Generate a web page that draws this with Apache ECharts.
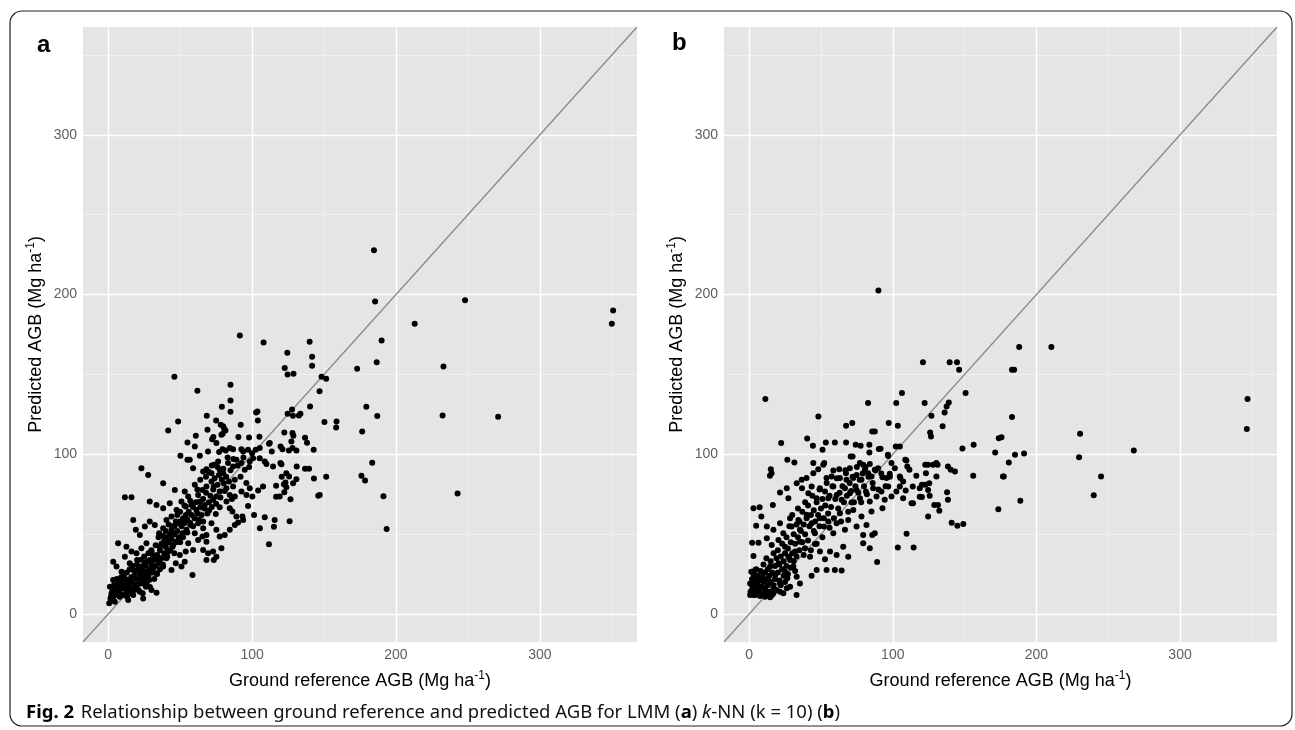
<!DOCTYPE html>
<html>
<head>
<meta charset="utf-8">
<title>Ground reference vs predicted AGB</title>
<script src="https://cdn.jsdelivr.net/npm/echarts@6.0.0/dist/echarts.min.js"></script>
<style>
    html, body { margin: 0; padding: 0; background: #fff; }
    #chart { width: 1295px; height: 730px; }
</style>
</head>
<body>
<div id="chart"></div>
<script>
// [ground reference AGB, predicted AGB] in Mg/ha
var lmmPoints = [
    [184.7,227.8],[185.5,195.6],[248,196.5],[350.9,190],[350,181.8],[213,181.8],[91.5,174.3],[108,170],[140,170.5],[190,171.3],
    [124.5,163.5],[141.7,161],[186.6,157.6],[122.7,154],[141.7,155.5],[233,155],[173,153.5],[46,148.6],[62,139.8],[85,143.5],
    [85,133.7],[79,129.8],[85,126.6],[124.7,150],[128.8,150.5],[148.3,148.6],[151.5,147.3],[146.9,139.4],[140.3,130],[179.4,129.8],
    [187,124],[232.4,124.3],[271,123.5],[150.3,120.2],[158.7,120.6],[158.4,116.8],[176.5,114.3],[183.5,94.7],[176,86.5],[178.5,83.6],
    [191.3,73.8],[193.5,53.3],[242.8,75.4],[151.5,86],[146,74],[147,74.6],[143,84.8],[136.8,91],[139.6,91],[131,92.4],
    [142.8,102.8],[136.8,110.3],[138.2,107.2],[127.8,128],[132.5,124.3],[133.6,125.4],[128.4,124.1],[124.7,125.4],[122.4,113.7],[128.1,113.3],
    [128.7,111.6],[125.6,102.4],[128.1,104],[120.4,93.8],[120.6,85.9],[123.2,82.3],[122.1,81.3],[123.8,79.3],[122.4,76.3],[126.7,71.9],
    [116.7,80.3],[126.1,58.1],[115.2,54.7],[105.4,53.7],[108.8,60.6],[111.7,43.7],[101.4,62],[116.7,73.4],[113.7,101.8],[112.3,107],
    [119.8,104.9],[103.7,126.8],[104,121.2],[105.1,111],[97.9,110.5],[92.1,118.5],[81.5,114.9],[102.8,126.2],[68.5,124.1],[75,121.2],
    [78.2,118.5],[80.6,116],[69,115.4],[73.1,110.8],[79.6,112.9],[90.5,110.8],
    [48.6,120.6],[41.7,114.9],[60.9,111.6],[79.9,117.5],[78.7,112.2],[111.8,106.6],[55.1,107.4],[72.2,109.5],
    [50.2,99.1],[55.1,96.6],[60.2,104.9],[63.7,99.1],[69.4,101.8],[75.2,107],[77.1,101.4],[79.4,103.2],[81.7,102.4],[84.5,103.9],
    [86.8,103.2],[92.6,103.2],[93.8,101.8],[97.2,102.8],[100,100.7],[102.5,102.8],[105.3,103.9],[121.1,103.2],[127.3,108],[130.8,102.4],
    [23.1,91.3],[27.8,87.1],[56.7,96.6],[59,91.3],[66,89.2],[68.3,90.7],[71.8,88.2],[73.6,93.4],[76.4,95.5],[77.5,90.3],
    [79.9,88.2],[83.3,94.5],[86.8,92.4],[89.1,96.6],[92.6,94.5],[94.9,90.3],[98.4,95.5],[100.7,97.6],[105.3,97.6],[108.8,95.5],
    [110,94],[114.6,92.4],[119.7,94.5],[125.7,86.1],[123.8,88.2],[130.8,84.4],
    [11.6,73.1],[16.2,73.1],[38.2,81.9],[46.3,77.7],[53.2,76.7],[55.6,73.6],[60.2,80.9],[62.5,74.6],[65.5,77.7],[68.3,79.8],
    [71.8,83],[73.4,79.8],[75.2,73.6],[77.5,76.7],[80.3,81.9],[82.2,78.8],[84.5,74.6],[86.8,79.8],[88,73.6],[92.6,76.7],
    [96.1,74.6],[98.4,78.8],[100.2,73.6],[104.2,77.3],[107.6,79.8],[119.2,73.6],[128.5,81.9],
    [28.9,70.4],[33.6,68.3],[38.2,66.2],[42.8,69.4],[47.5,65.2],[50.9,70.4],[53.9,67.3],[57.9,68.3],[61.3,65.2],[63.7,70.4],
    [67.1,68.3],[70.1,64.8],[72.9,71.5],[74.8,62.7],[77.5,66.9],[82.2,70.4],[84.5,66.2],[86.3,64.2],[89.1,61],[93.3,61],
    [97.2,67.7],[115.7,58.9],
    [17.4,58.9],[19.2,52.7],[22,49.5],[25.5,54.8],[28.9,57.9],[32.4,55.8],[35.4,50.6],[38.2,53.7],[40.5,58.9],[44,52.7],
    [46.3,55.2],[49.8,57.9],[51.6,50.6],[54.4,52.7],[57.2,55.8],[60.2,50.6],[62.5,56.8],[66,53.7],[68.3,49.5],[71.8,56.8],
    [75.2,52.7],[77.5,48.5],[81,49.5],[84.5,52.7],[88,55.8],[90.3,57.3],[93.8,58.9],
    [6.9,44.3],[12.7,42.2],[16.2,39.1],[19.7,38],[23.1,41.2],[26.6,44.3],[30.1,39.1],[33.6,35.9],[35.9,42.2],[39.4,44.3],
    [41.7,39.1],[44.7,42.2],[47.5,45.3],[49.8,37],[53.9,39.1],[55.6,44.3],[59,40.1],[62.5,46.4],[65.5,48.5],[66,40.1],
    [68.3,45.3],[69.4,38],[72.9,39.1],[75.2,35.9],[78.7,41.2],[68.3,33.9],[73.4,33.9],
    [3.5,32.8],[5.8,29.7],[9.3,26.5],[11.6,35.9],[15,31.8],[17.4,27.6],[20.1,33.9],[23.1,29.7],[25.5,31.8],[27.1,26.5],
    [28.9,33.9],[31.3,28.6],[33.6,25.5],[35.9,31.8],[38.2,29.7],[40.5,34.9],[44,27.6],[47,31.8],[50.9,29.7],[53.2,32.8],
    [58.6,24.5],[10.4,23.4],
    [1.2,17.1],[2.3,13],[3.5,21.3],[5.8,15],[6.9,19.2],[8.1,10.9],[10.4,18.2],[12.7,14],[13.9,20.3],[16.2,16.1],
    [17.4,11.9],[19.7,18.2],[22,14],[24.3,19.2],[26.2,17.1],[28.5,21.3],[30.1,15],[33.6,13.4],[24.3,9.8],[13.9,8.8],
    [3.5,8.8],[0.7,6.7],[1.6,9.8],[4.6,7.7],
    [2,11],[3,15],[4,18],[5,12],[6,14],[6,22],[7,17],[8,20],[8,13],[9,16],[9,23],[10,12],[10,20],[11,16],[11,25],
    [12,18],[12,22],[13,11],[13,26],[14,16],[14,21],[15,19],[15,28],[16,13],[16,23],[17,20],[17,30],[18,15],[18,24],[19,27],
    [19,17],[20,22],[20,31],[21,15],[21,28],[22,19],[22,25],[23,22],[23,34],[24,27],[24,13],[25,24],[25,36],[26,21],[26,30],
    [27,18],[27,33],[28,24],[28,38],[29,28],[29,17],[30,31],[30,40],[31,26],[31,37],[32,22],[32,34],[33,30],[33,43],[34,25],
    [34,37],[35,33],[35,48],[36,28],[36,40],[37,35],[37,44],[38,31],[38,49],[39,38],[39,46],[40,42],[40,52],[41,36],[41,48],
    [42,45],[42,56],[43,40],[43,50],[44,47],[44,61],[45,43],[45,55],[46,50],[46,38],[47,58],[47,45],[48,52],[48,62],[49,48],
    [49,57],[50,45],[50,64],[51,55],[52,60],[52,48],[53,57],[53,68],[54,62],[55,51],[55,59],[56,64],[57,57],[57,71],[58,62],
    [59,55],[59,67],[60,60],[61,70],[62,63],[62,78],[63,59],[64,67],[64,84],[65,62],[66,72],[66,58],[67,66],[68,76],[68,86],
    [69,63],[70,70],[70,89],[71,74],[72,67],[72,93],[73,78],[74,85],[75,69],[76,81],[76,92],[77,87],[78,73],[79,84],[80,91],
    [81,77],[82,86],[83,98],[84,83],[85,90],[86,72],[87,97],[88,84],[90,93],[92,86],[94,98],[96,82],[98,92]
];

var knnPoints = [
    [90,202.5],[188,167.2],[210.4,167.2],[121,157.6],[139.6,157.6],[144.7,157.6],[146.2,153],[183,153],[184.5,153],[11.3,134.6],
    [347,134.6],[346.5,115.8],[106.4,138.4],[150.7,138.4],[82.8,132.1],[102.4,132.1],[122.2,132.1],[139,132.5],[137.5,130],[136.1,126.2],
    [126.9,124.1],[134.7,117.5],[126,113.7],[126.6,111.2],[183,123.3],[230.4,112.9],[229.7,98.2],[267.8,102.4],[245,86.1],[239.9,74.4],
    [173.8,110.1],[171.3,101.1],[180.8,94.9],[185.1,99.7],[191.4,100.5],[176.7,86.1],[177.3,86.1],[156.3,106],[148.5,103.6],[156,86.5],
    [173.5,65.6],[188.8,71],[141,57.2],[145,55.2],[149.1,56.4],[137.8,76.3],[132.4,64.6],[124.6,61],[128.9,68.3],[109.6,50.2],
    [103.5,41.6],[114.5,41.6],[89.1,32.6],[84,41.2],[85.7,49.5],[140.4,90.3],[143.3,89.2],[131.2,93.4],[130.4,86.1],[122.6,93.4],
    [123.1,88.2],[120.3,80.9],[122.6,80.9],[125.4,81.9],[118.8,73.5],[120.3,73.2],[113.9,79.8],[113.1,69.4],[124.6,77.7],[110.1,92.4],
    [111.6,90.3],[108.7,96.6],[105.3,85.1],[97.2,119.6],[103.5,117.9],[102.1,104.9],[96.6,99.7],[85.7,114.3],[83.7,106],[83.7,101.1],
    [90.3,103.3],[74.2,106],[77.6,105.3],[70.7,98.6],[67.5,117.9],[71.8,119.6],[67.5,107.4],[59.7,107.4],[53.4,107.4],[51.1,102.8],
    [44.4,105.3],[40.4,109.9],[48.2,123.7],[22.3,107],[15.1,90.7],[15.6,88.2],[14.5,86.5],[26.6,96.6],[31.5,94.9],[7.3,66.9],
    [8.5,61],[16.5,68.3],[2.1,44.7],[3,36.4],[1.5,26.5],[87.5,114.3],[175.7,110.6],[91.5,103.4],[96.8,99],[104.9,104.9],
    [72,98.6],[109.5,96.1],[124.5,93.4],[130.3,94.5],[52.3,94.5],[44.7,94.5],
    [48.1,90.7],[51.6,93.4],[58.6,89.9],[62.7,90.7],[67.4,88.2],[70.1,91.3],[74.8,87.1],[77.1,94.5],[79.4,93.4],[80.6,90.3],
    [82.9,88.2],[85.2,86.1],[87.5,90.3],[89.8,91.3],[95.6,85.1],[99.1,94.5],[101.4,91.3],[128,93.4],[138.4,92.4],[36.6,84],
    [40,85.1],[44.7,88.2],[53.9,85.1],[57.4,86.1],[63.2,85.1],[67.8,84],[72.5,85.1],[78.2,84],[92.8,85.7],[97.9,87.8],
    [104.9,86.1],[107.2,83],[116.4,86.5],
    [26.2,78.8],[27.3,72.5],[21.5,76.1],[33.1,81.9],[36.8,78.8],[41.2,75.6],[43.5,79.8],[47,72.5],[49.3,78.8],[52.8,76.7],
    [55.1,72.5],[58.6,79.8],[60.9,74.6],[64.4,71.5],[66.7,78.8],[70.1,75.6],[71.3,69.8],[74.8,77.7],[77.1,72.5],[81.3,76.7],
    [84,70.4],[86.3,78.8],[88.7,73.6],[92.1,76.7],[94.4,71.5],[96.8,79.8],[99.1,73.6],[102.5,76.7],[104.9,79.8],[107.2,72.5],
    [109,77.3],[114.1,69.4],[118.8,78.8],[125.7,74],[131.5,68.3],[138.4,71.5],
    [3,66.2],[4.9,55.2],[12.3,54.8],[16.9,52.7],[21.5,56.8],[23.8,50.6],[28.5,60],[29.6,54.8],[34.3,58.9],[35.4,52.7],
    [40,62.1],[43.5,56.8],[45.8,50.6],[49.3,60],[52.1,54.8],[55.1,57.9],[58.6,50.6],[60.9,56.8],[63.2,63.1],[66.7,52.7],
    [69,58.9],[72.5,65.2],[74.8,54.8],[78.2,61],[79.4,49.5],[81.7,55.8],[85.2,64.2],[87.5,50.6],[92.8,66.2],[79.4,44.3],
    [6.5,44.7],[12.3,47.4],[15.7,43.3],[20.4,46.4],[25,42.2],[27.3,35.9],[32,39.1],[35.4,45.3],[38.9,41.2],[42.4,35.9],
    [45.8,43.9],[49.3,39.1],[52.8,34.3],[56.3,39.1],[60.9,37],[65.5,42.2],[69,35.9],[53.9,27.6],[59.7,27.6],[64.4,27.2],
    [47,27.6],[43.5,24],
    [0.7,19.2],[1.9,15],[4.2,27.6],[5.3,22.4],[7.6,17.1],[10,25.5],[11.1,13],[13.4,21.3],[14.6,29.7],[16.9,16.1],
    [18.1,24.5],[20.4,31.8],[21.5,19.2],[23.8,13],[25,26.5],[26.6,22.4],[28.5,17.1],[30.8,29.7],[33.1,23.4],[35.4,19.2],
    [28.5,33.9],[0.7,11.9],[4.2,11.9],[7.6,11.3],[11.1,10.9],[14.6,10.5],[16.9,13],[21.5,14],[26.2,16.1],[33,11.9],
    [1,14],[2,18],[2,22],[3,12],[3,25],[4,16],[4,20],[5,13],[5,28],[6,18],[6,24],[7,14],[7,21],[8,12],[8,27],
    [9,17],[9,23],[10,13],[10,20],[10,31],[11,16],[11,26],[12,12],[12,22],[12,35],[13,18],[13,28],[14,14],[14,24],[15,20],
    [15,33],[16,12],[16,26],[17,18],[17,38],[18,22],[18,30],[19,15],[19,35],[20,26],[20,40],[21,21],[21,31],[22,36],[22,18],
    [23,28],[23,44],[24,24],[24,33],[25,38],[25,20],[26,30],[26,48],[27,25],[27,41],[28,35],[28,55],[29,29],[29,45],[30,38],
    [30,62],[31,33],[31,50],[32,44],[32,27],[33,56],[33,36],[34,48],[34,66],[35,40],[35,58],[36,52],[37,45],[37,64],[38,56],
    [38,37],[39,70],[39,50],[40,60],[41,46],[41,68],[42,55],[43,62],[43,40],[44,74],[45,52],[45,65],[46,58],[47,70],[47,44],
    [48,62],[49,55],[49,78],[50,66],[51,48],[51,72],[52,60],[53,68],[54,82],[55,63],[56,54],[56,74],[57,67],[58,80],[59,60],
    [60,72],[61,85],[62,66],[63,76],[64,58],[65,80],[66,70],[67,90],[68,74],[69,64],[70,82],[71,77],[72,86],[73,70],[74,80],
    [75,92],[76,76],[77,84],[78,70],[79,88],[80,80],[81,92],[82,75],[83,86],[84,94],[86,82],[88,90],[90,78],[92,88],[95,80],
    [98,86]
];

var axisRange = [-17.5, 367.5];
var tickValues = [0, 100, 200, 300];
var minorGridValues = [50, 150, 250, 350];
var identityLine = [[-17.5, -17.5], [367.5, 367.5]];

var fontMain = 'Liberation Sans, Arial, Helvetica, sans-serif';

function gridLineMarks() {
    var data = [];
    minorGridValues.forEach(function (v) {
        data.push({xAxis: v, lineStyle: {color: '#f3f3f3', width: 0.8, type: 'solid'}});
        data.push({yAxis: v, lineStyle: {color: '#f3f3f3', width: 0.8, type: 'solid'}});
    });
    tickValues.forEach(function (v) {
        data.push({xAxis: v, lineStyle: {color: '#ffffff', width: 1.4, type: 'solid'}});
        data.push({yAxis: v, lineStyle: {color: '#ffffff', width: 1.4, type: 'solid'}});
    });
    return {
        silent: true,
        symbol: ['none', 'none'],
        label: {show: false},
        animation: false,
        z: 1,
        data: data
    };
}

function titleRich() {
    return {
        n: {fontSize: 18, fontFamily: fontMain, color: '#000', lineHeight: 22},
        s: {fontSize: 12, fontFamily: fontMain, color: '#000', lineHeight: 12, verticalAlign: 'top'}
    };
}

function makeXAxis(gridIndex) {
    return {
        gridIndex: gridIndex,
        type: 'value',
        min: axisRange[0],
        max: axisRange[1],
        name: '{n|Ground reference AGB (Mg ha}{s|-1}{n|)}',
        nameLocation: 'middle',
        nameGap: 28,
        nameTextStyle: {rich: titleRich()},
        axisLine: {show: false},
        splitLine: {show: false},
        axisTick: {show: true, customValues: tickValues, length: 4, lineStyle: {color: '#7f7f7f'}},
        axisLabel: {customValues: tickValues, margin: 6, fontSize: 14, color: '#5e5e5e', fontFamily: fontMain}
    };
}

function makeYAxis(gridIndex) {
    return {
        gridIndex: gridIndex,
        type: 'value',
        min: axisRange[0],
        max: axisRange[1],
        name: '{n|Predicted AGB (Mg ha}{s|-1}{n|)}',
        nameLocation: 'middle',
        nameGap: 36,
        nameTextStyle: {rich: titleRich()},
        axisLine: {show: false},
        splitLine: {show: false},
        axisTick: {show: true, customValues: tickValues, length: 4, lineStyle: {color: '#7f7f7f'}},
        axisLabel: {customValues: tickValues, margin: 6, fontSize: 14, color: '#5e5e5e', fontFamily: fontMain}
    };
}

function panelSeries(index, points) {
    return [
        {
            type: 'scatter',
            xAxisIndex: index,
            yAxisIndex: index,
            data: [],
            markLine: gridLineMarks(),
            z: 1
        },
        {
            type: 'line',
            xAxisIndex: index,
            yAxisIndex: index,
            data: identityLine,
            symbol: 'none',
            silent: true,
            lineStyle: {color: '#8a8a8a', width: 1.3},
            z: 2
        },
        {
            type: 'scatter',
            xAxisIndex: index,
            yAxisIndex: index,
            data: points,
            symbolSize: 6,
            itemStyle: {color: '#000', opacity: 1},
            z: 3
        }
    ];
}

var myChart = echarts.init(document.getElementById('chart'), null, {renderer: 'canvas'});

var option = {
    backgroundColor: '#fff',
    animation: false,
    grid: [
        {left: 83, top: 27, width: 554, height: 615, show: true, backgroundColor: '#e5e5e5', borderWidth: 0, containLabel: false, outerBoundsMode: 'none'},
        {left: 724, top: 27, width: 553, height: 615, show: true, backgroundColor: '#e5e5e5', borderWidth: 0, containLabel: false, outerBoundsMode: 'none'}
    ],
    xAxis: [makeXAxis(0), makeXAxis(1)],
    yAxis: [makeYAxis(0), makeYAxis(1)],
    series: panelSeries(0, lmmPoints).concat(panelSeries(1, knnPoints)),
    graphic: [
        {
            type: 'rect',
            shape: {x: 10, y: 11, width: 1282, height: 715, r: 12},
            style: {fill: 'none', stroke: '#222', lineWidth: 1.2},
            silent: true
        },
        {
            type: 'text', left: 37, top: 33,
            style: {text: 'a', font: 'bold 24px ' + fontMain, fill: '#000'}
        },
        {
            type: 'text', left: 672, top: 31,
            style: {text: 'b', font: 'bold 24px ' + fontMain, fill: '#000'}
        },
        {
            type: 'text', left: 26, top: 703,
            style: {
                text: '{b|Fig. 2}  {r|Relationship between ground reference and predicted AGB for LMM (}{b|a}{r|) }{i|k}{r|-NN (k = 10) (}{b|b}{r|)}',
                rich: {
                    b: {fontSize: 18.5, fontWeight: 'bold', fontFamily: 'Noto Sans', fill: '#000'},
                    r: {fontSize: 18.5, fontFamily: 'Noto Sans', fill: '#111'},
                    i: {fontSize: 18.5, fontStyle: 'italic', fontFamily: 'Noto Sans', fill: '#111'}
                }
            }
        }
    ]
};

myChart.setOption(option);
</script>
</body>
</html>
